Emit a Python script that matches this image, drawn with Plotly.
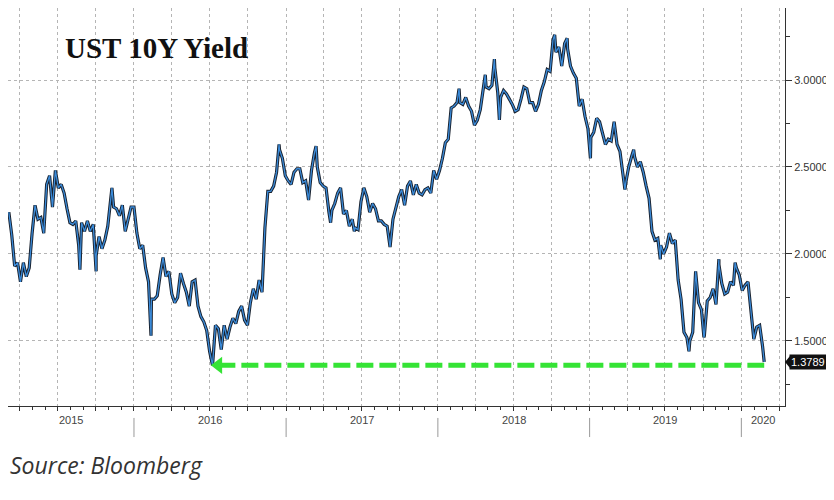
import pandas as pd
import plotly.graph_objects as go

# Weekly (Friday) closes of the US 10Y Treasury yield
y2015 = [2.24, 2.11, 1.93, 1.95,
         1.84, 1.95, 1.87, 1.92,
         2.12, 2.28, 2.20, 2.21, 2.12,
         2.40, 2.45, 2.27, 2.48,
         2.38, 2.40, 2.35, 2.26, 2.18,
         2.17, 2.19, 2.05, 2.18,
         2.13, 2.19, 2.13, 2.17,
         1.99, 2.10, 2.03, 2.08, 2.16,
         2.33, 2.27, 2.26, 2.22,
         2.28, 2.13, 2.20, 2.27]
y2016 = [2.27, 2.12, 2.03, 2.05, 1.92,
         1.84, 1.74, 1.74, 1.76,
         1.88, 1.98, 1.87, 1.90,
         1.77, 1.72, 1.75, 1.89, 1.83,
         1.78, 1.70, 1.84, 1.85,
         1.70, 1.64, 1.61, 1.56,
         1.44, 1.36, 1.59, 1.57, 1.45,
         1.59, 1.51, 1.58, 1.63,
         1.60, 1.67, 1.70, 1.62, 1.59,
         1.72, 1.80, 1.74, 1.85,
         1.78, 2.15, 2.36, 2.36,
         2.39, 2.47, 2.60, 2.55, 2.45]
y2017 = [2.42, 2.40, 2.47, 2.49,
         2.49, 2.41, 2.42, 2.31,
         2.48, 2.58, 2.50, 2.41, 2.39,
         2.38, 2.24, 2.25, 2.29,
         2.35, 2.38, 2.23, 2.25,
         2.16, 2.20, 2.15, 2.14, 2.30,
         2.38, 2.33, 2.24, 2.29,
         2.26, 2.19, 2.19, 2.17,
         2.16, 2.04, 2.20, 2.26, 2.33,
         2.37, 2.28, 2.39, 2.42,
         2.34, 2.40, 2.35, 2.34,
         2.37, 2.38, 2.35, 2.48, 2.43]
y2018 = [2.48, 2.55, 2.64, 2.66,
         2.84, 2.85, 2.87, 2.87,
         2.86, 2.90, 2.85, 2.82, 2.74,
         2.77, 2.83, 2.96, 2.96,
         2.95, 2.97, 3.07, 2.93,
         2.90, 2.94, 2.92, 2.89, 2.86,
         2.82, 2.83, 2.89, 2.96,
         2.95, 2.87, 2.87, 2.82, 2.86,
         2.94, 2.99, 3.06, 3.05,
         3.23, 3.16, 3.19, 3.08,
         3.21, 3.18, 3.08, 3.04, 3.01,
         2.85, 2.89, 2.79, 2.72]
y2019 = [2.67, 2.70, 2.78, 2.76,
         2.69, 2.63, 2.66, 2.65,
         2.76, 2.63, 2.59, 2.44, 2.41,
         2.50, 2.56, 2.56, 2.50,
         2.53, 2.47, 2.39, 2.32, 2.13,
         2.08, 2.09, 2.05, 2.00,
         2.04, 2.12, 2.06, 2.08,
         1.85, 1.74, 1.55, 1.52, 1.50,
         1.55, 1.90, 1.72, 1.68,
         1.53, 1.73, 1.75, 1.80,
         1.71, 1.94, 1.83, 1.77, 1.78,
         1.84, 1.82, 1.92, 1.88]
y2020 = [1.79, 1.82, 1.84, 1.68, 1.51, 1.58, 1.59, 1.47]
year_starts = ["2015-03-06", "2016-01-01", "2017-01-06", "2018-01-05", "2019-01-04", "2020-01-03"]

# daily extremes visible as spikes
spike_dates = ["2015-08-24", "2015-10-02", "2015-11-09", "2016-02-11", "2016-12-15",
               "2017-03-14", "2017-04-18", "2017-06-14", "2018-02-21", "2018-04-25",
               "2018-05-17", "2018-05-29", "2018-10-09", "2018-11-08", "2019-01-03",
               "2019-03-27", "2019-04-17", "2019-06-20", "2019-08-28", "2019-10-03",
               "2019-11-08", "2019-12-17"]
spike_values = [1.91, 1.90, 2.38, 1.53, 2.63,
                2.62, 2.18, 2.13, 2.95, 3.03,
                3.12, 2.77, 3.26, 3.24, 2.55,
                2.37, 2.60, 1.97, 1.44, 1.52,
                1.97, 1.95]

last_date = "2020-02-25"
last_value = 1.3789

year_labels = ["2015", "2016", "2017", "2018", "2019", "2020"]
y_ticks = [1.5, 2.0, 2.5, 3.0]
y_minor = [1.25, 1.75, 2.25, 2.75, 3.25]

# build the series
parts = []
for start, vals in zip(year_starts, [y2015, y2016, y2017, y2018, y2019, y2020]):
    d = pd.date_range(start, periods=len(vals), freq="W-FRI")
    parts.append(pd.DataFrame({"date": d, "yld": vals}))
parts.append(pd.DataFrame({"date": pd.to_datetime(spike_dates), "yld": spike_values}))
parts.append(pd.DataFrame({"date": [pd.Timestamp(last_date)], "yld": [last_value]}))
df = pd.concat(parts).sort_values("date").reset_index(drop=True)

# the 2016 low that the green arrow points back to
low_2016 = df[df["date"].dt.year == 2016]["yld"].min()

x_min, x_max = pd.Timestamp("2015-03-04"), pd.Timestamp("2020-04-15")

fig = go.Figure()

fig.add_trace(go.Scatter(x=df["date"], y=df["yld"], mode="lines",
                         line=dict(color="#18212e", width=3.2), hoverinfo="skip"))
fig.add_trace(go.Scatter(x=df["date"], y=df["yld"], mode="lines",
                         line=dict(color="#3b8bd9", width=1.3), hoverinfo="skip"))

# green dashed arrow
arrow_start = pd.Timestamp("2016-07-22")
fig.add_trace(go.Scatter(x=[arrow_start, pd.Timestamp(last_date)], y=[low_2016, low_2016],
                         mode="lines", line=dict(color="#35e335", width=5, dash="17px,6px"),
                         hoverinfo="skip"))
fig.add_trace(go.Scatter(x=[arrow_start], y=[low_2016], mode="markers",
                         marker=dict(symbol="triangle-left", size=15, color="#35e335"),
                         hoverinfo="skip"))

# year separators and labels below the axis
for i, lab in enumerate(year_labels):
    y0 = max(pd.Timestamp(f"{lab}-01-01"), x_min)
    y1 = min(pd.Timestamp(f"{int(lab) + 1}-01-01"), x_max)
    mid = y0 + (y1 - y0) / 2
    fig.add_annotation(x=mid, y=-0.055, xref="x", yref="paper", text=lab, showarrow=False,
                       font=dict(size=11, color="#444", family="Liberation Sans"))
    if i > 0:
        fig.add_shape(type="line", x0=y0, x1=y0, y0=-0.030, y1=-0.078, xref="x", yref="paper",
                      line=dict(color="#999", width=1))

# title and source
fig.add_annotation(x=0.0708, y=0.899, xref="paper", yref="paper", xanchor="left", yanchor="middle",
                   text="<b>UST 10Y Yield</b>", showarrow=False,
                   font=dict(family="Liberation Serif", size=29, color="#111"))
fig.add_annotation(x=0, y=-0.148, xref="paper", yref="paper", xanchor="left", yanchor="middle",
                   text="<i>Source: Bloomberg</i>", showarrow=False,
                   font=dict(family="Open Sans", size=23, color="#333"))

# last value box on the right axis
fig.add_annotation(x=1, y=last_value, xref="paper", yref="y", xanchor="left", yanchor="middle",
                   xshift=4, text=f"{last_value:.4f}", showarrow=False, bgcolor="#111",
                   borderpad=1, font=dict(size=11, color="white", family="Liberation Sans"))
fig.add_shape(type="path", xref="paper", yref="y", xsizemode="pixel", xanchor=1,
              path=f"M 0 {last_value} L 5 {last_value + 0.035} L 5 {last_value - 0.035} Z",
              fillcolor="#111", line=dict(width=0))

# the page adds an 8px body margin, so the figure is 8px smaller than the window
fig.update_layout(
    width=826, height=492,
    margin=dict(l=0, r=49, t=0, b=94),
    paper_bgcolor="white", plot_bgcolor="white",
    showlegend=False,
    xaxis=dict(
        type="date", range=[x_min, x_max], automargin=False,
        tick0="2015-01-01", dtick="M3",
        showgrid=True, gridcolor="#b5b5b5", griddash="dot", gridwidth=1,
        ticks="outside", ticklen=4, tickcolor="#333",
        showticklabels=False,
        showline=True, linecolor="#333", linewidth=1,
        minor=dict(tick0="2015-01-01", dtick="M1", ticks="outside", ticklen=3,
                   tickcolor="#333", showgrid=False),
    ),
    yaxis=dict(
        side="right", range=[1.126, 3.414], automargin=False,
        tickvals=y_ticks, ticktext=[f"{v:.4f}" for v in y_ticks],
        showgrid=True, gridcolor="#b5b5b5", griddash="dot", gridwidth=1,
        ticks="outside", ticklen=6, tickcolor="#333",
        tickfont=dict(size=11, color="#333", family="Liberation Sans"),
        showline=True, linecolor="#333", linewidth=1, zeroline=False,
        minor=dict(tickvals=y_minor, ticks="outside", ticklen=4,
                   tickcolor="#333", showgrid=False),
    ),
)

fig.write_html("out.html")
